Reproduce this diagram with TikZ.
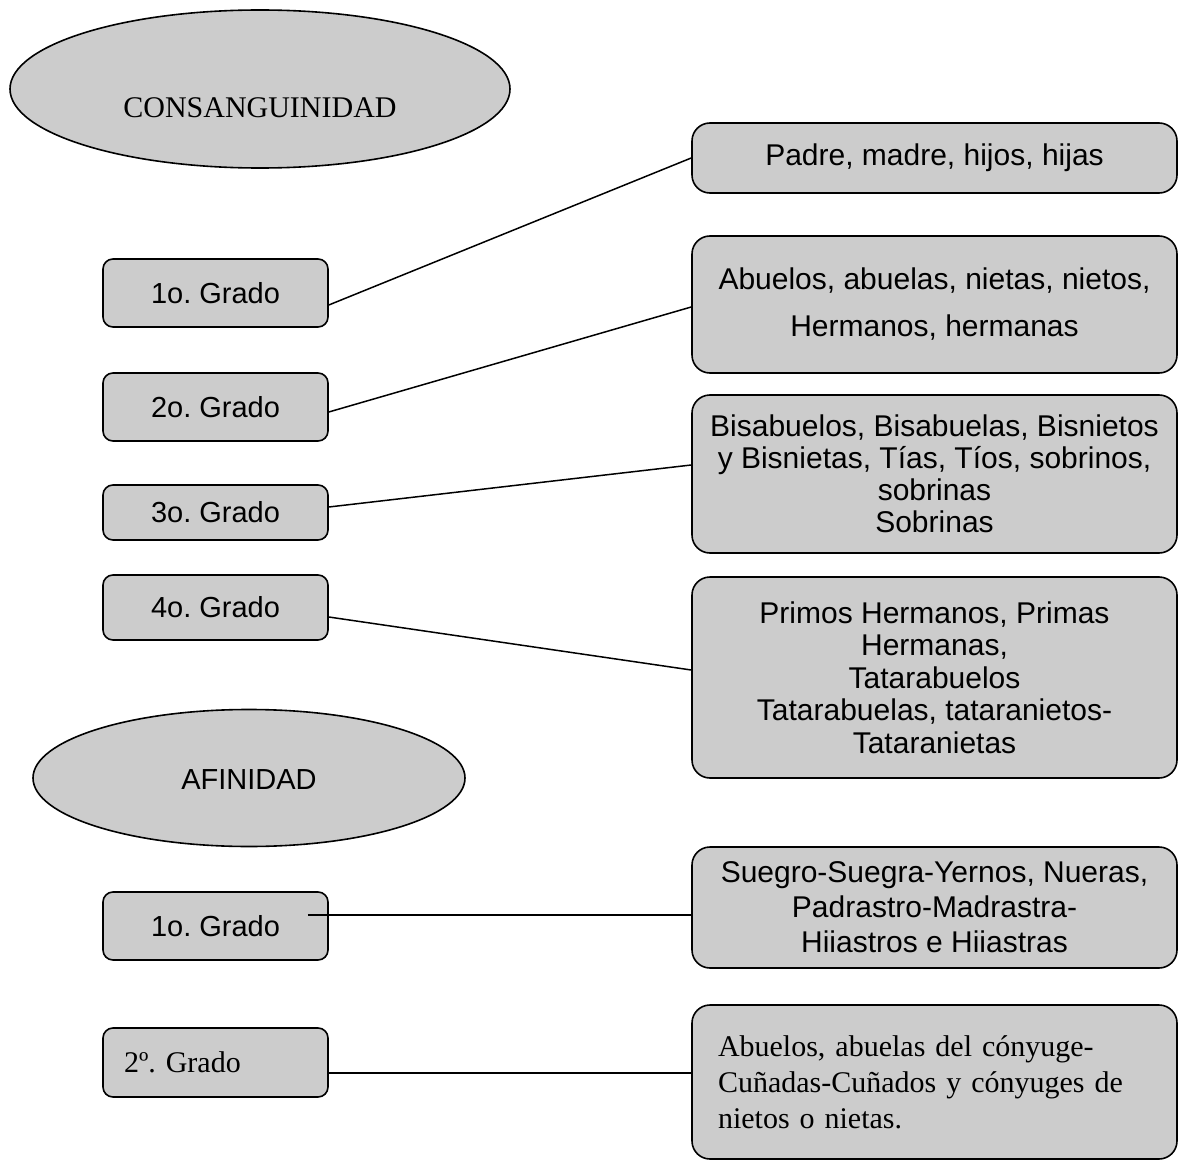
\documentclass[tikz,border=0pt]{standalone}
\usepackage{fontspec}
\setmainfont{Liberation Serif}
\setsansfont{Liberation Sans}
\usetikzlibrary{shapes.geometric, positioning}
\frenchspacing

\begin{document}
\begin{tikzpicture}[x=0.5pt, y=-0.5pt,
    grado/.style={draw, rounded corners=5pt, fill=gray!40, line width=0.8pt,
      minimum width=112.5pt, inner sep=0pt, font=\sffamily\fontsize{14.5}{16}\selectfont},
    lista/.style={draw, rounded corners=9pt, fill=gray!40, line width=0.8pt,
      minimum width=242.5pt, inner sep=0pt, align=center},
    tipo/.style={draw, ellipse, fill=gray!40, line width=0.8pt, inner sep=0pt},
    enlace/.style={line width=0.75pt}]
  \useasboundingbox (0,0) rectangle (1179,1161);
  % consanguinidad
  \node[tipo, minimum width=250pt, minimum height=79pt] (cons) at (260,89) {};
  \node[font=\rmfamily\fontsize{15}{16}\selectfont] (consT) at (260,108) {CONSANGUINIDAD};
  \node[grado, minimum height=34pt] (c1) at (215.5,293) {1o. Grado};
  \node[grado, minimum height=34pt] (c2) at (215.5,407) {2o. Grado};
  \node[grado, minimum height=27.5pt] (c3) at (215.5,512.5) {3o. Grado};
  \node[grado, minimum height=32.5pt] (c4) at (215.5,607.5) {4o. Grado};
  \node[lista, minimum height=35pt, font=\sffamily\fontsize{15}{16}\selectfont] (r1) at (934.5,158) {Padre, madre, hijos, hijas};
  \node[lista, minimum height=68.5pt, font=\sffamily\fontsize{15}{23.5}\selectfont] (r2) at (934.5,304.5)
    {Abuelos, abuelas, nietas, nietos,\\ Hermanos, hermanas};
  \node[lista, minimum height=79pt, font=\sffamily\fontsize{15}{16}\selectfont] (r3) at (934.5,474)
    {Bisabuelos, Bisabuelas, Bisnietos\\ y Bisnietas, Tías, Tíos, sobrinos,\\ sobrinas\\ Sobrinas};
  \node[lista, minimum height=100.5pt, font=\sffamily\fontsize{15}{16.25}\selectfont] (r4) at (934.5,677.5)
    {Primos Hermanos, Primas\\ Hermanas,\\ Tatarabuelos\\ Tatarabuelas, tataranietos-\\ Tataranietas};
  % afinidad
  \node[tipo, minimum width=216pt, minimum height=68.5pt] (afin) at (249,778) {};
  \node[font=\sffamily\fontsize{14.5}{16}\selectfont] (afinT) at (249,780) {AFINIDAD};
  \node[grado, minimum height=34pt] (a1) at (215.5,926) {1o. Grado};
  \node[grado, minimum height=34.5pt, text width=91.5pt, inner xsep=10.5pt, align=left,
    font=\rmfamily\fontsize{15}{16}\selectfont] (a2) at (215.5,1062.5) {2º. Grado};
  \node[lista, minimum height=60.5pt, font=\sffamily\fontsize{15}{17.5}\selectfont] (r5) at (934.5,907.5)
    {Suegro-Suegra-Yernos, Nueras,\\ Padrastro-Madrastra-\\ Hiiastros e Hiiastras};
  \node[lista, minimum height=77pt, text width=216.5pt, inner xsep=13pt, align=left,
    font=\rmfamily\fontsize{15}{18}\selectfont] (r6) at (934.5,1082)
    {Abuelos, abuelas del cónyuge-\\ Cuñadas-Cuñados y cónyuges de\\ nietos o nietas.};
  % enlaces
  \draw[enlace] ([yshift=-6pt]c1.east) -- (r1.west);
  \draw[enlace] ([yshift=-2.5pt]c2.east) -- ([yshift=-1.25pt]r2.west);
  \draw[enlace] ([yshift=2.75pt]c3.east) -- ([yshift=4.5pt]r3.west);
  \draw[enlace] ([yshift=-4.75pt]c4.east) -- ([yshift=3.75pt]r4.west);
  \draw[enlace] ([xshift=-10.5pt,yshift=5.5pt]a1.east) coordinate (p1) -- (p1 -| r5.west);
  \draw[enlace] ([yshift=-5.25pt]a2.east) coordinate (p2) -- (p2 -| r6.west);
\end{tikzpicture}
\end{document}
